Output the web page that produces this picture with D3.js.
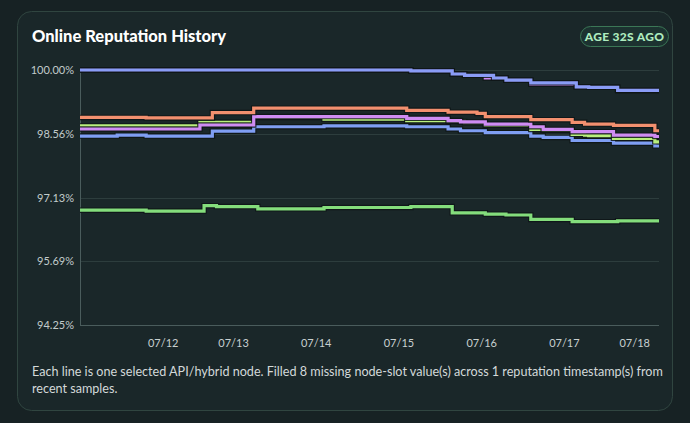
<!DOCTYPE html>
<html>
<head>
<meta charset="utf-8">
<script src="https://cdn.jsdelivr.net/npm/d3@7"></script>
<style>
  html, body { margin: 0; padding: 0; background: #172224; }
  svg { display: block; }
</style>
</head>
<body>
<div id="chart"></div>
<script>
// sample slots (index positions along the x axis), shared by every node line
const slots = [0, 9, 16, 29, 30, 32, 33, 42, 43, 59, 79, 80, 89, 90, 92, 93, 96, 98, 100, 103, 109, 112, 119, 120, 122, 123, 129, 130, 139, 140];

const topBlue   = [100, 100, 100, 100, 100, 100, 100, 100, 100, 100, 100, 99.98, 99.98, 99.91, 99.91, 99.88, 99.88, 99.88, 99.82, 99.77, 99.71, 99.71, 99.71, 99.62, 99.62, 99.61, 99.61, 99.54, 99.54, 99.54];
const topPurple = [100, 100, 100, 100, 100, 100, 100, 100, 100, 100, 100, 99.98, 99.98, 99.91, 99.91, 99.88, 99.88, 99.82, 99.82, 99.77, 99.68, 99.68, 99.71, 99.62, 99.62, 99.61, 99.61, 99.54, 99.54, 99.54];
const orange    = [98.93, 98.93, 98.92, 98.92, 98.92, 99.04, 99.04, 99.14, 99.14, 99.14, 99.09, 99.09, 99.05, 99.05, 99.05, 99.05, 99.02, 98.95, 98.95, 98.95, 98.88, 98.88, 98.82, 98.82, 98.78, 98.78, 98.75, 98.75, 98.63, 98.63];
const lime      = [98.74, 98.74, 98.74, 98.82, 98.82, 98.82, 98.82, 98.93, 98.93, 98.89, 98.86, 98.86, 98.84, 98.84, 98.84, 98.81, 98.81, 98.75, 98.75, 98.75, 98.66, 98.64, 98.55, 98.55, 98.53, 98.52, 98.46, 98.46, 98.38, 98.38];
const purple    = [98.67, 98.67, 98.67, 98.76, 98.76, 98.76, 98.76, 98.95, 98.95, 98.95, 98.91, 98.91, 98.86, 98.86, 98.83, 98.83, 98.83, 98.78, 98.78, 98.78, 98.72, 98.66, 98.61, 98.61, 98.61, 98.61, 98.53, 98.53, 98.50, 98.50];
const lowBlue   = [98.51, 98.53, 98.51, 98.51, 98.51, 98.62, 98.62, 98.72, 98.72, 98.74, 98.72, 98.72, 98.67, 98.67, 98.63, 98.63, 98.63, 98.59, 98.59, 98.59, 98.51, 98.48, 98.41, 98.41, 98.41, 98.41, 98.35, 98.35, 98.29, 98.29];
const green     = [96.84, 96.84, 96.82, 96.82, 96.94, 96.94, 96.92, 96.92, 96.87, 96.90, 96.90, 96.92, 96.92, 96.78, 96.78, 96.78, 96.78, 96.75, 96.75, 96.73, 96.63, 96.63, 96.58, 96.58, 96.58, 96.58, 96.58, 96.60, 96.60, 96.60];

const yTicks = [94.25, 95.6875, 97.125, 98.5625, 100];
const xTickSlots = [20, 37, 57, 77, 97, 117, 134];
const xTickLabels = ["07/12", "07/13", "07/14", "07/15", "07/16", "07/17", "07/18"];

// drawing order: later ones sit on top
const series = [
  { name: "node-b", values: topPurple, color: "#cf8cf3" },
  { name: "node-a", values: topBlue, color: "#8a9cf6" },
  { name: "node-g", values: green, color: "#84dd7c" },
  { name: "node-f", values: lowBlue, color: "#7f9ef3" },
  { name: "node-d", values: lime, color: "#b9ef7d" },
  { name: "node-e", values: purple, color: "#cf8cf3" },
  { name: "node-c", values: orange, color: "#f3906f" }
];

const W = 690, H = 423;
const margin = { top: 70, right: 31, bottom: 98, left: 80 };

const svg = d3.select("#chart").append("svg")
  .attr("width", W)
  .attr("height", H);

// card
svg.append("rect")
  .attr("x", 17.5).attr("y", 11.5)
  .attr("width", 655).attr("height", 399)
  .attr("rx", 14)
  .attr("fill", "#1a2729")
  .attr("stroke", "#304540");

svg.append("text")
  .attr("x", 32).attr("y", 42)
  .attr("fill", "#ffffff")
  .attr("font-family", "Lato")
  .attr("font-weight", 900)
  .attr("font-size", 16.5)
  .text("Online Reputation History");

// age badge
svg.append("rect")
  .attr("x", 580.5).attr("y", 26.5)
  .attr("width", 88).attr("height", 20)
  .attr("rx", 10)
  .attr("fill", "#1c3230")
  .attr("stroke", "#3b7756");
svg.append("text")
  .attr("x", 624.5).attr("y", 41)
  .attr("text-anchor", "middle")
  .attr("fill", "#aeecbf")
  .attr("font-family", "Lato")
  .attr("font-weight", 900)
  .attr("font-size", 12)
  .attr("letter-spacing", 0.3)
  .text("AGE 32S AGO");

let x = d3.scaleLinear().domain([0, 140]).range([margin.left, W - margin.right]);
let y = d3.scaleLinear().domain([94.25, 100]).range([H - margin.bottom, margin.top]);

// grid
svg.append("g").selectAll("line")
  .data(yTicks)
  .join("line")
  .attr("x1", x(0)).attr("x2", x(140))
  .attr("y1", d => Math.round(y(d)) + 0.5).attr("y2", d => Math.round(y(d)) + 0.5)
  .attr("stroke", d => d === 94.25 ? "#4a5c5c" : "#2d3d3d");

svg.append("line")
  .attr("x1", x(0) + 0.5).attr("x2", x(0) + 0.5)
  .attr("y1", y(100)).attr("y2", y(94.25))
  .attr("stroke", "#4a5c5c");

// y axis labels
svg.append("g")
  .attr("transform", "translate(" + (x(0) - 6) + ",0)")
  .call(d3.axisLeft(y).tickValues(yTicks).tickSize(0).tickPadding(0)
    .tickFormat(d => d.toFixed(2) + "%"))
  .call(g => g.select(".domain").remove())
  .call(g => g.selectAll("text")
    .attr("fill", "#c2cbcb")
    .attr("font-family", "Lato")
    .attr("font-size", 11));

// x axis labels
svg.append("g")
  .attr("transform", "translate(0," + y(94.25) + ")")
  .call(d3.axisBottom(x).tickValues(xTickSlots).tickSize(0).tickPadding(14)
    .tickFormat((d, i) => xTickLabels[i]))
  .call(g => g.select(".domain").remove())
  .call(g => g.selectAll("text")
    .attr("fill", "#c8d0d0")
    .attr("font-family", "Lato")
    .attr("font-size", 11));

let line = d3.line()
  .x((d, i) => x(slots[i]))
  .y(d => y(d))
  .curve(d3.curveStepAfter);

series.forEach(s => {
  svg.append("path")
    .datum(s.values)
    .attr("d", line)
    .attr("fill", "none")
    .attr("stroke", "#0e1516")
    .attr("stroke-width", 5.5)
    .attr("stroke-opacity", 0.85);
  svg.append("path")
    .datum(s.values)
    .attr("d", line)
    .attr("fill", "none")
    .attr("stroke", s.color)
    .attr("stroke-width", 3.2);
});

// caption
const caption = svg.append("text")
  .attr("fill", "#d3d9d9")
  .attr("font-family", "Lato")
  .attr("font-size", 12.6);
caption.append("tspan").attr("x", 32).attr("y", 376)
  .text("Each line is one selected API/hybrid node. Filled 8 missing node-slot value(s) across 1 reputation timestamp(s) from");
caption.append("tspan").attr("x", 32).attr("y", 393)
  .text("recent samples.");
</script>
</body>
</html>
